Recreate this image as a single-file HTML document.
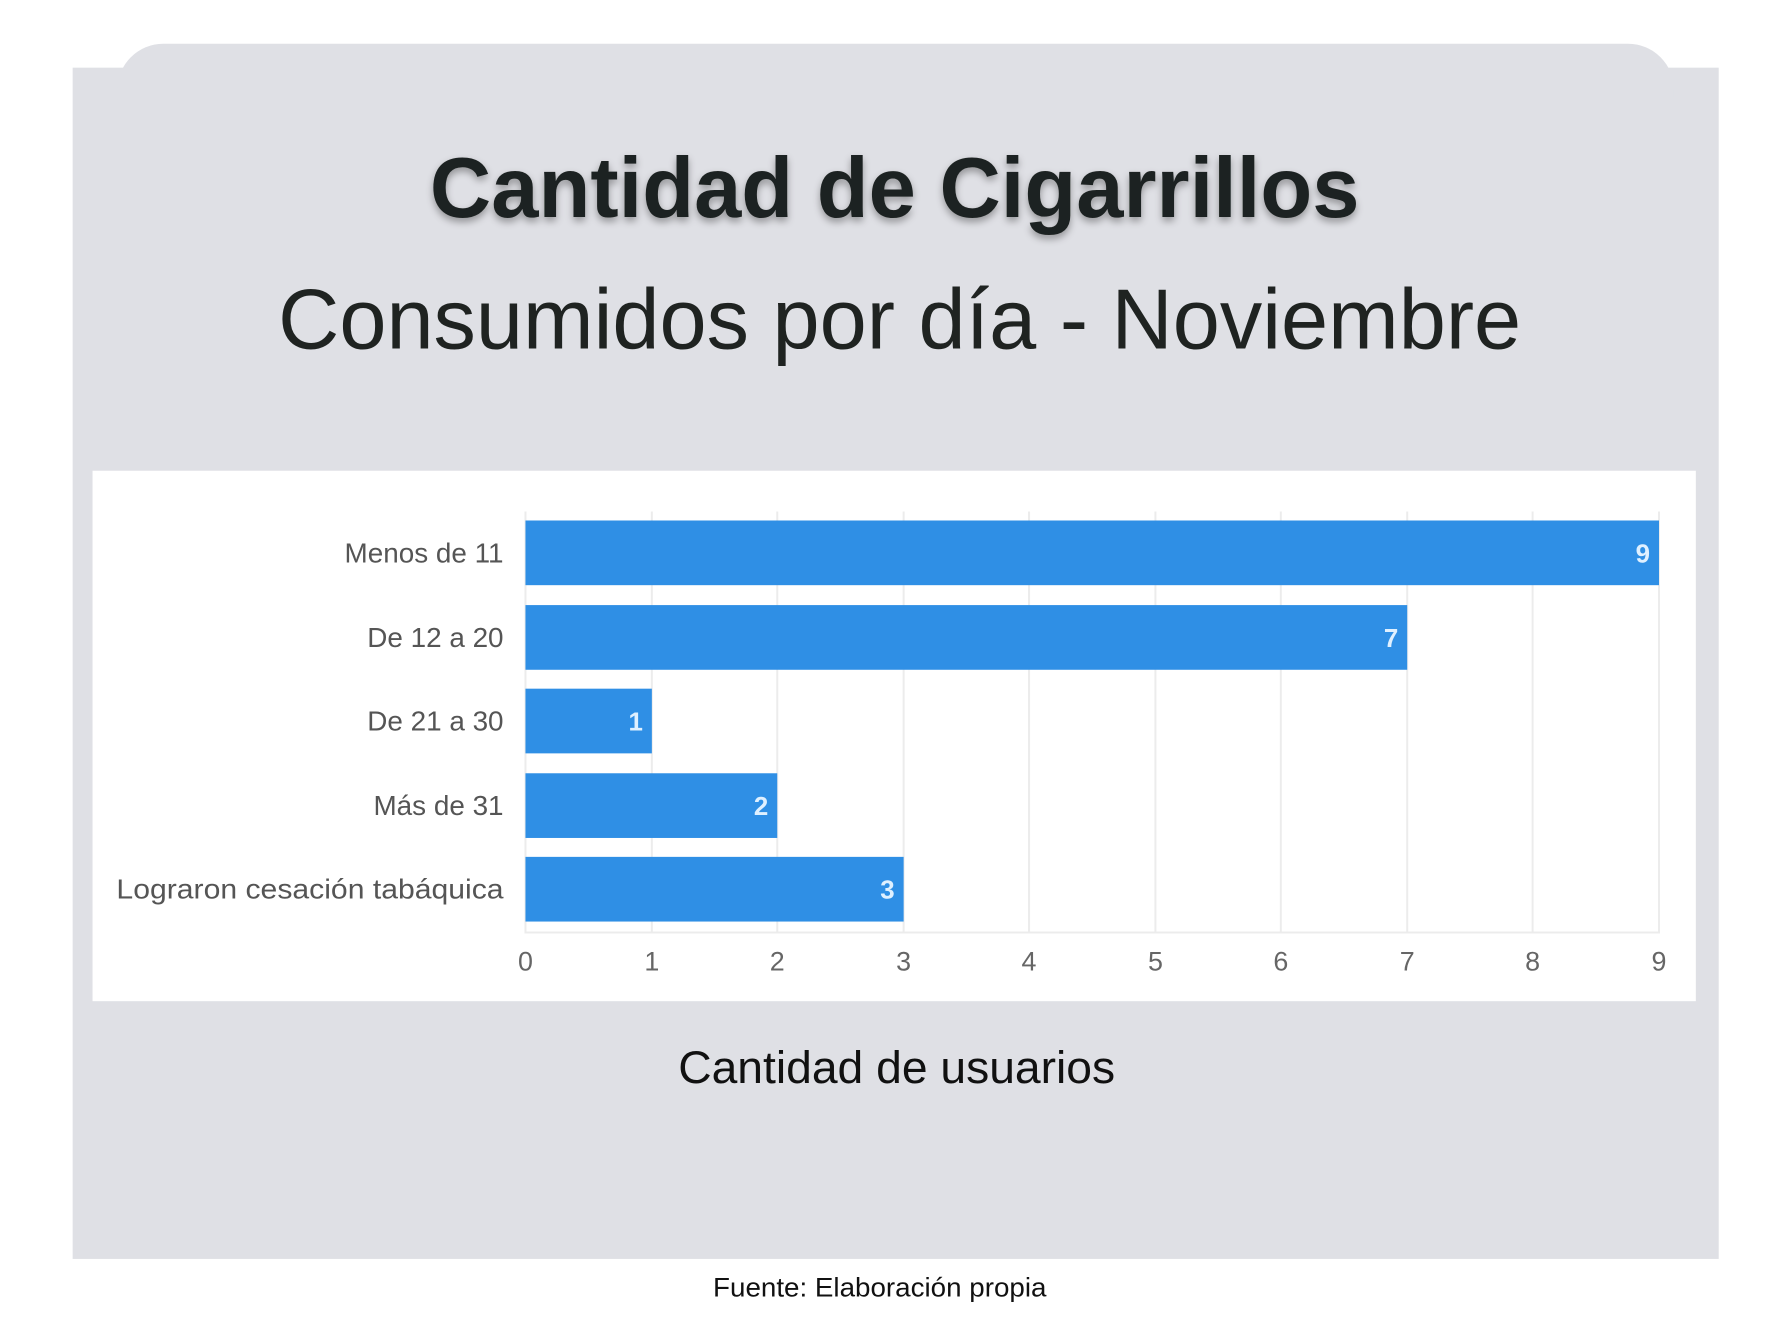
<!DOCTYPE html>
<html><head><meta charset="utf-8"><style>
html,body{margin:0;padding:0;background:#fff;}
svg{display:block;}
</style></head><body>
<svg width="1791" height="1343" viewBox="0 0 1791 1343" xmlns="http://www.w3.org/2000/svg">
<defs>
<filter id="sh" x="-10%" y="-30%" width="120%" height="160%">
<feGaussianBlur in="SourceAlpha" stdDeviation="4"/><feOffset dx="0" dy="4"/>
<feComponentTransfer><feFuncA type="linear" slope="0.35"/></feComponentTransfer>
<feMerge><feMergeNode/><feMergeNode in="SourceGraphic"/></feMerge></filter>
</defs>
<g transform="scale(0.9952)">
<rect x="73" y="68" width="1654" height="1197" fill="#dfe0e5"/>
<rect x="118" y="44" width="1564" height="100" rx="46" fill="#dfe0e5"/>
<g font-family="Liberation Sans, sans-serif" fill="#1f2321">
<text x="899" y="218" font-size="86" font-weight="bold" text-anchor="middle" textLength="934" lengthAdjust="spacingAndGlyphs" filter="url(#sh)">Cantidad de Cigarrillos</text>
<text x="904" y="350" font-size="86" text-anchor="middle" textLength="1249" lengthAdjust="spacingAndGlyphs">Consumidos por día - Noviembre</text>
<text x="901" y="1088" font-size="46" text-anchor="middle" textLength="439" lengthAdjust="spacingAndGlyphs" fill="#111">Cantidad de usuarios</text>
<text x="884" y="1303" font-size="27" text-anchor="middle" textLength="335" lengthAdjust="spacingAndGlyphs" fill="#111">Fuente: Elaboración propia</text>
</g>
<rect x="93" y="473" width="1611" height="533" fill="#fff"/>
<g stroke="#ececec" stroke-width="2">
<line x1="528" y1="514" x2="528" y2="938"/><line x1="655" y1="514" x2="655" y2="938"/><line x1="781" y1="514" x2="781" y2="938"/><line x1="908" y1="514" x2="908" y2="938"/><line x1="1034" y1="514" x2="1034" y2="938"/><line x1="1161" y1="514" x2="1161" y2="938"/><line x1="1287" y1="514" x2="1287" y2="938"/><line x1="1414" y1="514" x2="1414" y2="938"/><line x1="1540" y1="514" x2="1540" y2="938"/><line x1="1667" y1="514" x2="1667" y2="938"/>
<line x1="528" y1="937" x2="1667" y2="937"/>
</g>
<g fill="#2f8fe5">
<rect x="528" y="523" width="1139" height="65"/>
<rect x="528" y="608" width="886" height="65"/>
<rect x="528" y="692" width="127" height="65"/>
<rect x="528" y="777" width="253" height="65"/>
<rect x="528" y="861" width="380" height="65"/>
</g>
<g font-family="Liberation Sans, sans-serif" font-size="26" font-weight="bold" fill="#dff0ff" text-anchor="end">
<text x="1658" y="565">9</text><text x="1405" y="650">7</text><text x="646" y="734">1</text><text x="772" y="819">2</text><text x="899" y="903">3</text>
</g>
<g font-family="Liberation Sans, sans-serif" font-size="28" fill="#555" text-anchor="end">
<text x="506" y="565">Menos de 11</text>
<text x="506" y="650">De 12 a 20</text>
<text x="506" y="734">De 21 a 30</text>
<text x="506" y="819">Más de 31</text>
<text x="506" y="903" textLength="389" lengthAdjust="spacingAndGlyphs">Lograron cesación tabáquica</text>
</g>
<g font-family="Liberation Sans, sans-serif" font-size="27" fill="#666" text-anchor="middle">
<text x="528" y="975">0</text><text x="655" y="975">1</text><text x="781" y="975">2</text><text x="908" y="975">3</text><text x="1034" y="975">4</text><text x="1161" y="975">5</text><text x="1287" y="975">6</text><text x="1414" y="975">7</text><text x="1540" y="975">8</text><text x="1667" y="975">9</text>
</g>
</g>
</svg>
</body></html>
